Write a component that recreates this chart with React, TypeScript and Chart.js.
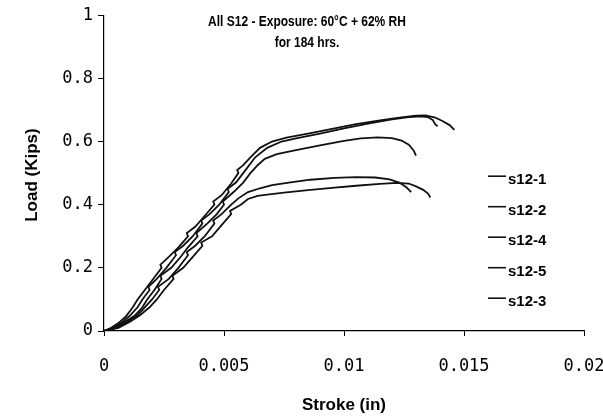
import React, { useEffect, useRef } from "react";
import { Chart, registerables } from "chart.js";

Chart.register(...registerables);

const titleLines = ["All S12 - Exposure: 60°C + 62% RH", "for 184 hrs."];
const xAxisTitle = "Stroke (in)";
const yAxisTitle = "Load (Kips)";
const xTickLabels = ["0", "0.005", "0.01", "0.015", "0.02"];
const yTickLabels = ["0", "0.2", "0.4", "0.6", "0.8", "1"];
const seriesNames = ["s12-1", "s12-2", "s12-4", "s12-5", "s12-3"];

const s12_1: [number, number][] = [
  [0, 0], [0.0003, 0.01], [0.0006, 0.025], [0.0009, 0.045], [0.0012, 0.075], [0.0014, 0.1],
  [0.0017, 0.13], [0.002, 0.16], [0.0024, 0.2], [0.00235, 0.21], [0.0027, 0.235], [0.0031, 0.265],
  [0.0035, 0.3], [0.00345, 0.31], [0.0038, 0.33], [0.0042, 0.365], [0.0046, 0.4], [0.00455, 0.41],
  [0.0049, 0.43], [0.0053, 0.467], [0.0056, 0.5], [0.00555, 0.51], [0.0058, 0.525], [0.0061, 0.55],
  [0.0065, 0.58], [0.007, 0.6], [0.0076, 0.612], [0.0085, 0.625], [0.0095, 0.64], [0.0105, 0.655],
  [0.0115, 0.667], [0.0123, 0.676], [0.013, 0.682], [0.0134, 0.683], [0.0138, 0.676], [0.0141, 0.665],
  [0.0144, 0.652], [0.0146, 0.637],
];
const s12_2: [number, number][] = [
  [0, 0], [0.0004, 0.01], [0.0008, 0.03], [0.0011, 0.05], [0.0014, 0.075], [0.0016, 0.1],
  [0.0019, 0.13], [0.00185, 0.14], [0.0022, 0.165], [0.0026, 0.2], [0.003, 0.24], [0.00295, 0.25],
  [0.0033, 0.27], [0.0037, 0.3], [0.0041, 0.34], [0.00405, 0.35], [0.0044, 0.37], [0.0048, 0.4],
  [0.0052, 0.44], [0.00515, 0.45], [0.0055, 0.47], [0.0058, 0.5], [0.0063, 0.55], [0.0068, 0.58],
  [0.0074, 0.6], [0.008, 0.61], [0.009, 0.625], [0.01, 0.642], [0.011, 0.657], [0.012, 0.67],
  [0.0127, 0.677], [0.0132, 0.68], [0.0135, 0.677], [0.0137, 0.668], [0.0138, 0.655], [0.0139, 0.648],
];
const s12_4: [number, number][] = [
  [0, 0], [0.0005, 0.01], [0.0009, 0.03], [0.0013, 0.05], [0.0016, 0.075], [0.0018, 0.1],
  [0.0021, 0.13], [0.0024, 0.165], [0.00235, 0.175], [0.0028, 0.2], [0.0032, 0.235], [0.0035, 0.265],
  [0.0039, 0.3], [0.00385, 0.31], [0.0043, 0.34], [0.0047, 0.37], [0.005, 0.4], [0.00495, 0.41],
  [0.0054, 0.44], [0.0058, 0.47], [0.0061, 0.5], [0.0064, 0.525], [0.0067, 0.545], [0.0072, 0.56],
  [0.008, 0.573], [0.009, 0.588], [0.01, 0.602], [0.0107, 0.61], [0.0114, 0.613], [0.012, 0.611],
  [0.0124, 0.603], [0.0127, 0.59], [0.0129, 0.572], [0.013, 0.555],
];
const s12_5: [number, number][] = [
  [0, 0], [0.0005, 0.01], [0.001, 0.03], [0.0014, 0.05], [0.0017, 0.075], [0.002, 0.1],
  [0.0023, 0.13], [0.00225, 0.14], [0.0027, 0.165], [0.0031, 0.2], [0.0035, 0.24], [0.00345, 0.25],
  [0.0038, 0.27], [0.0042, 0.3], [0.0046, 0.34], [0.00455, 0.35], [0.0049, 0.37], [0.0053, 0.4],
  [0.0056, 0.42], [0.006, 0.44], [0.0065, 0.452], [0.007, 0.462], [0.0077, 0.47], [0.0086, 0.479],
  [0.0096, 0.485], [0.0105, 0.487], [0.0113, 0.486], [0.0119, 0.48], [0.0123, 0.47], [0.0126, 0.455],
  [0.0128, 0.44],
];
const s12_3: [number, number][] = [
  [0, 0], [0.0006, 0.01], [0.0011, 0.03], [0.0015, 0.05], [0.0019, 0.075], [0.0022, 0.1],
  [0.0025, 0.13], [0.0029, 0.165], [0.00285, 0.175], [0.0033, 0.2], [0.0037, 0.235], [0.0041, 0.27],
  [0.00405, 0.28], [0.0045, 0.3], [0.0049, 0.335], [0.0053, 0.37], [0.00525, 0.38], [0.0057, 0.4],
  [0.006, 0.418], [0.0064, 0.428], [0.0068, 0.432], [0.0075, 0.438], [0.0085, 0.446], [0.0095, 0.453],
  [0.0105, 0.46], [0.0115, 0.466], [0.0122, 0.469], [0.0127, 0.467], [0.013, 0.458], [0.0133, 0.447],
  [0.0135, 0.435], [0.0136, 0.423],
];

const seriesData = [s12_1, s12_2, s12_4, s12_5, s12_3];

const overlayPlugin = {
  id: "overlay",
  afterDraw(chart: any) {
    const { ctx, chartArea } = chart;
    ctx.save();
    ctx.fillStyle = "#000";
    ctx.textAlign = "center";
    ctx.textBaseline = "middle";
    // title (condensed bold sans)
    ctx.font = "bold 15px 'Liberation Sans', Arial, sans-serif";
    const cx = chartArea.left + 203;
    titleLines.forEach((t, i) => {
      ctx.save();
      ctx.translate(cx, chartArea.top + 7 + i * 21);
      ctx.scale(0.8, 1);
      ctx.fillText(t, 0, 0);
      ctx.restore();
    });
    // axis titles
    ctx.font = "bold 17px 'Liberation Sans', Arial, sans-serif";
    ctx.fillText(xAxisTitle, (chartArea.left + chartArea.right) / 2, chartArea.bottom + 74);
    ctx.save();
    ctx.translate(32, (chartArea.top + chartArea.bottom) / 2 + 2);
    ctx.rotate(-Math.PI / 2);
    ctx.fillText(yAxisTitle, 0, 0);
    ctx.restore();
    // legend
    ctx.textAlign = "left";
    ctx.font = "bold 15px 'Liberation Sans', Arial, sans-serif";
    const lx = chartArea.right - 96;
    seriesNames.forEach((name, i) => {
      const y = chartArea.top + 161 + i * 30.5;
      ctx.strokeStyle = "#111";
      ctx.lineWidth = 1.6;
      ctx.beginPath();
      ctx.moveTo(lx, y);
      ctx.lineTo(lx + 18, y);
      ctx.stroke();
      ctx.fillText(name, lx + 20, y + 4);
    });
    ctx.restore();
  },
};

export default function App() {
  const ref = useRef<HTMLCanvasElement | null>(null);
  useEffect(() => {
    if (!ref.current) return;
    const chart = new Chart(ref.current, {
      type: "scatter",
      data: {
        datasets: seriesData.map((pts, i) => ({
          label: seriesNames[i],
          data: pts.map(([x, y]) => ({ x, y })),
          showLine: true,
          borderColor: "#111",
          backgroundColor: "#111",
          borderWidth: 1.8,
          pointRadius: 0,
          tension: 0,
        })),
      },
      options: {
        animation: false,
        responsive: true,
        maintainAspectRatio: false,
        layout: { padding: { top: 14, right: 19, left: 0, bottom: 0 } },
        plugins: { legend: { display: false }, tooltip: { enabled: false }, title: { display: false } },
        scales: {
          x: {
            type: "linear",
            min: 0,
            max: 0.02,
            afterFit: (s: any) => {
              s.height = 88;
              s.paddingLeft = 0;
              s.paddingRight = 0;
            },
            ticks: {
              stepSize: 0.005,
              maxRotation: 0,
              color: "#000",
              padding: 20,
              font: { family: "'DejaVu Sans Mono', monospace", size: 17 },
              callback: (_v: any, i: number) => xTickLabels[i],
            },
            grid: { drawOnChartArea: false, drawTicks: true, tickLength: 5, color: "#000" },
            border: { display: true, color: "#000", width: 1.2 },
          },
          y: {
            type: "linear",
            min: 0,
            max: 1,
            afterFit: (s: any) => { s.width = 104; },
            ticks: {
              stepSize: 0.2,
              color: "#000",
              padding: 5,
              font: { family: "'DejaVu Sans Mono', monospace", size: 17 },
              callback: (_v: any, i: number) => yTickLabels[i],
            },
            grid: { drawOnChartArea: false, drawTicks: true, tickLength: 6, color: "#000" },
            border: { display: true, color: "#000", width: 1.2 },
          },
        },
      },
      plugins: [overlayPlugin],
    });
    return () => chart.destroy();
  }, []);
  return (
    <div style={{ position: "fixed", left: 0, top: 0, width: 603, height: 419, background: "#fff" }}>
      <canvas ref={ref} />
    </div>
  );
}
